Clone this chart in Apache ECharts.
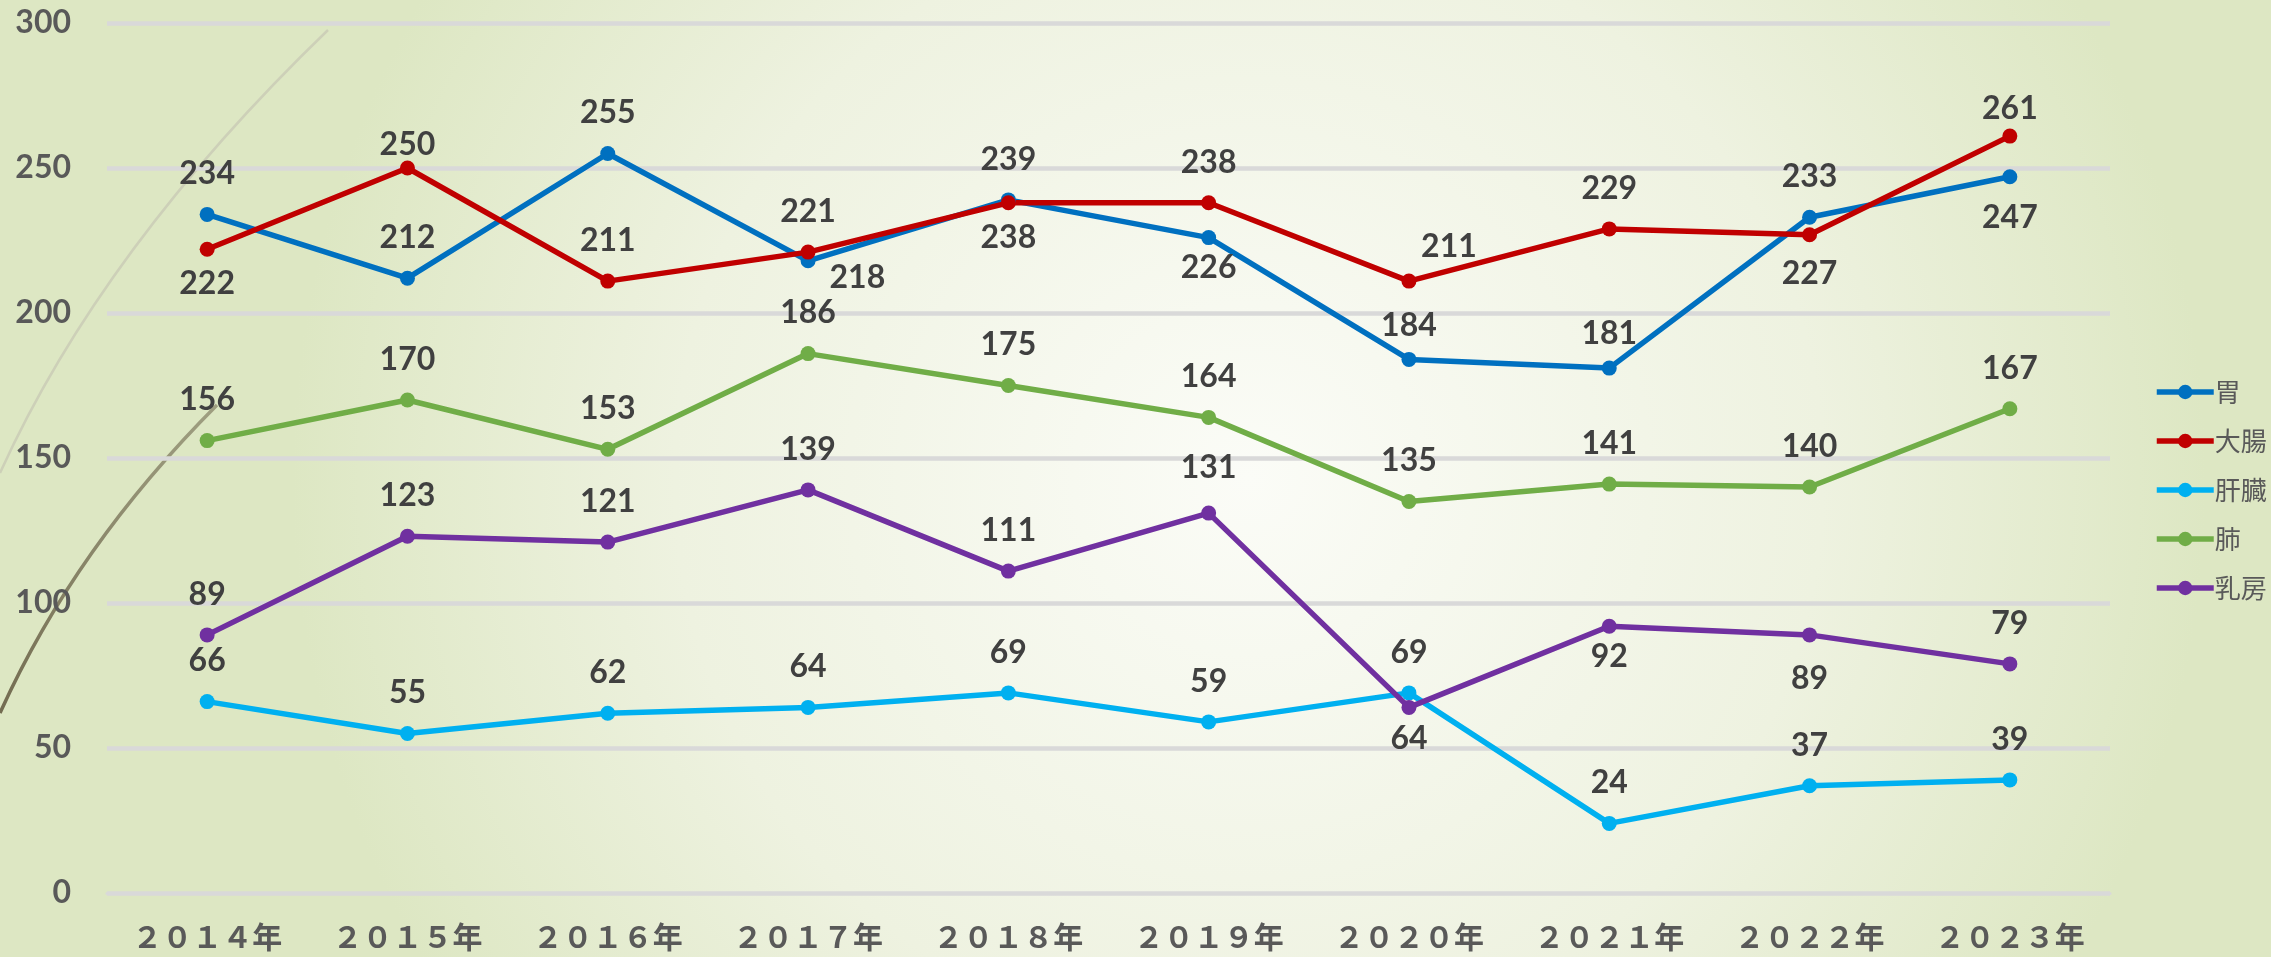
<!DOCTYPE html>
<html>
<head>
<meta charset="utf-8">
<style>
  html, body { margin: 0; padding: 0; }
  #chart { width: 2271px; height: 957px; }
</style>
<script src="https://cdn.jsdelivr.net/npm/echarts@6/dist/echarts.min.js"></script>
</head>
<body>
<div id="chart"></div>
<script>
// data
const years = ['２０１４年', '２０１５年', '２０１６年', '２０１７年', '２０１８年', '２０１９年', '２０２０年', '２０２１年', '２０２２年', '２０２３年']
const stomach = [234, 212, 255, 218, 239, 226, 184, 181, 233, 247]   // 胃
const colon = [222, 250, 211, 221, 238, 238, 211, 229, 227, 261]     // 大腸
const liver = [66, 55, 62, 64, 69, 59, 69, 24, 37, 39]               // 肝臓
const lung = [156, 170, 153, 186, 175, 164, 135, 141, 140, 167]      // 肺
const breast = [89, 123, 121, 139, 111, 131, 64, 92, 89, 79]         // 乳房
const yTicks = [0, 50, 100, 150, 200, 250, 300]

// label placement tweaks (index -> label option)
function below(dy) {
  return { position: 'bottom', distance: 11, offset: [0, dy || 0] }
}
const labelTweaks = {
  '胃': {
    3: { position: 'right', distance: 6, offset: [8, 17] },
    5: below(-4), 6: { offset: [0, 7] }, 7: { offset: [0, 6] }, 9: below(6)
  },
  '大腸': { 0: below(), 1: { offset: [0, 17] }, 4: below(), 6: { offset: [40, 6] }, 8: below(4), 9: { offset: [0, 13] } },
  '肝臓': {},
  '肺': {},
  '乳房': { 5: { offset: [0, -5] }, 6: below(-3), 7: below(-4), 8: below(9) }
}

const chart = echarts.init(document.getElementById('chart'))

function makeSeries(name, values, color) {
  const tweaks = labelTweaks[name] || {}
  return {
    name: name,
    type: 'line',
    symbol: 'circle',
    symbolSize: 15,
    lineStyle: { width: 5.5, color: color },
    itemStyle: { color: color },
    label: {
      show: true,
      position: 'top',
      distance: 17,
      fontFamily: 'Lato',
      fontWeight: 'bold',
      fontSize: 32,
      color: '#404040'
    },
    data: values.map((v, i) => tweaks[i] ? { value: v, label: tweaks[i] } : v),
    animation: false
  }
}

chart.setOption({
  backgroundColor: new echarts.graphic.RadialGradient(0.55, 0.5, 1.0, [
    { offset: 0, color: '#fbfcf7' },
    { offset: 0.6, color: '#eef2e0' },
    { offset: 1, color: '#dde7c3' }
  ]),
  graphic: [
    {
      type: 'bezierCurve',
      z: 0,
      shape: { x1: 328, y1: 30, cpx1: 102, cpy1: 248, x2: 0, y2: 473 },
      style: { stroke: '#cdd0b8', lineWidth: 2.5, fill: null }
    },
    {
      type: 'bezierCurve',
      z: 0,
      shape: { x1: 217, y1: 405, cpx1: 75, cpy1: 547, x2: 0, y2: 713 },
      style: {
        stroke: new echarts.graphic.LinearGradient(0, 0, 0, 1, [
          { offset: 0, color: 'rgba(118,111,85,0.6)' },
          { offset: 1, color: '#726b50' }
        ]),
        lineWidth: 3.5,
        fill: null
      }
    }
  ],
  grid: {
    top: 23,
    left: 107,
    right: 161,
    bottom: 64,
    containLabel: false
  },
  legend: {
    orient: 'vertical',
    left: 2149,
    top: 373,
    itemWidth: 57,
    itemHeight: 18,
    itemGap: 21,
    lineStyle: { width: 5.5 },
    textStyle: {
      fontFamily: 'Noto Sans CJK JP',
      fontSize: 26,
      lineHeight: 28,
      color: '#595959',
      padding: [0, 0, 0, -4]
    },
    data: ['胃', '大腸', '肝臓', '肺', '乳房']
  },
  xAxis: {
    type: 'category',
    data: years,
    boundaryGap: true,
    axisLine: { show: true, lineStyle: { color: '#d9d9d9', width: 3 } },
    axisTick: { show: false },
    axisLabel: {
      interval: 0,
      margin: 29,
      fontFamily: 'Noto Sans CJK JP',
      fontWeight: 'bold',
      fontSize: 30,
      color: '#595959'
    }
  },
  yAxis: {
    type: 'value',
    min: yTicks[0],
    max: yTicks[yTicks.length - 1],
    interval: 50,
    axisLine: { show: false },
    axisTick: { show: false },
    splitLine: { lineStyle: { color: '#d9d9d9', width: 4.5 } },
    axisLabel: {
      margin: 36,
      fontFamily: 'Lato',
      fontWeight: 'bold',
      fontSize: 32,
      color: '#595959'
    }
  },
  series: [
    makeSeries('胃', stomach, '#0070c0'),
    makeSeries('大腸', colon, '#c00000'),
    makeSeries('肝臓', liver, '#00b0f0'),
    makeSeries('肺', lung, '#70ad47'),
    makeSeries('乳房', breast, '#7030a0')
  ]
})
</script>
</body>
</html>
